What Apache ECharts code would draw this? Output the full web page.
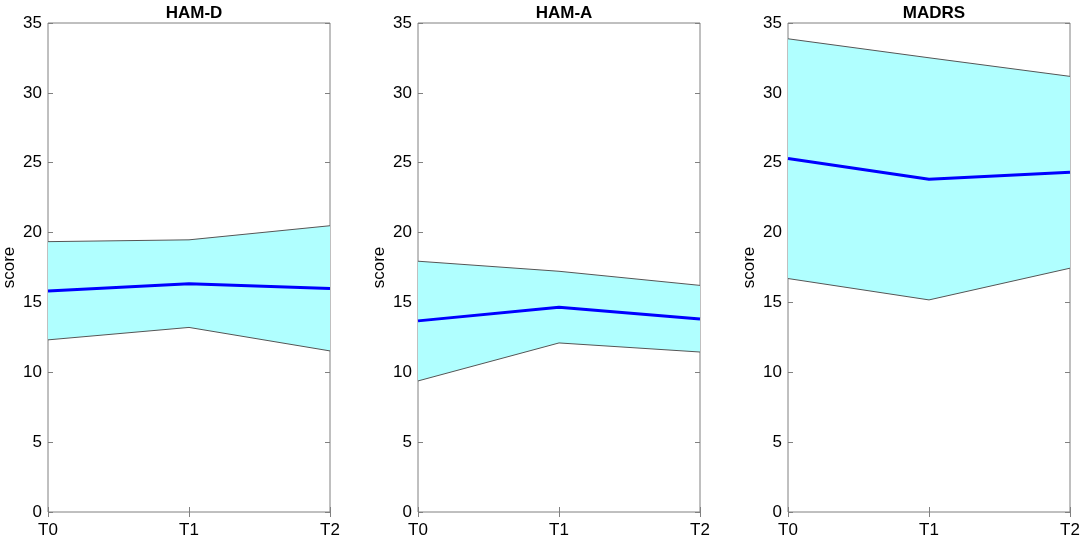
<!DOCTYPE html>
<html>
<head>
<meta charset="utf-8">
<script src="https://cdn.jsdelivr.net/npm/echarts@6/dist/echarts.min.js"></script>
<style>
html, body { margin: 0; padding: 0; background: #fff; }
#main { width: 1084px; height: 540px; }
</style>
</head>
<body>
<div id="main"></div>
<script>
// data
var timePoints = ['T0', 'T1', 'T2'];
var panelTitles = ['HAM-D', 'HAM-A', 'MADRS'];

var hamdUpper = [19.35, 19.48, 20.49];
var hamdMean = [15.82, 16.34, 16.0];
var hamdLower = [12.32, 13.21, 11.53];

var hamaUpper = [17.95, 17.23, 16.22];
var hamaMean = [13.68, 14.66, 13.82];
var hamaLower = [9.38, 12.1, 11.45];

var madrsUpper = [33.87, 32.51, 31.18];
var madrsMean = [25.3, 23.82, 24.32];
var madrsLower = [16.71, 15.18, 17.45];

var panels = [
    {upper: hamdUpper, mean: hamdMean, lower: hamdLower},
    {upper: hamaUpper, mean: hamaMean, lower: hamaLower},
    {upper: madrsUpper, mean: madrsMean, lower: madrsLower}
];

var FONT = 'Liberation Sans, Arial, sans-serif';
var lefts = [48, 418, 788];
var plotW = 282;

var grids = [], xAxes = [], yAxes = [], series = [], titles = [];

panels.forEach(function (p, i) {
    grids.push({
        left: lefts[i], width: plotW, top: 23, bottom: 28,
        show: true, borderColor: '#808080', borderWidth: 1, backgroundColor: 'transparent'
    });
    titles.push({
        text: panelTitles[i],
        left: lefts[i] + plotW / 2, top: 0, textAlign: 'center',
        textStyle: {fontFamily: FONT, fontSize: 17, fontWeight: 'bold', color: '#000'}
    });
    // bottom x axis
    xAxes.push({
        type: 'category', gridIndex: i, data: timePoints, boundaryGap: false,
        axisLine: {show: false},
        axisTick: {show: true, inside: true, length: 5, lineStyle: {color: '#808080'}},
        axisLabel: {fontFamily: FONT, fontSize: 17, color: '#000', margin: 10},
        splitLine: {show: false}
    });
    // top x axis, ticks only
    xAxes.push({
        type: 'category', gridIndex: i, data: timePoints, boundaryGap: false, position: 'top',
        axisLine: {show: false},
        axisTick: {show: true, inside: true, length: 5, lineStyle: {color: '#808080'}},
        axisLabel: {show: false}, splitLine: {show: false}
    });
    yAxes.push({
        type: 'value', gridIndex: i, min: 0, max: 35, interval: 5,
        name: 'score', nameLocation: 'middle', nameGap: 30,
        nameTextStyle: {fontFamily: FONT, fontSize: 17, color: '#000'},
        axisLine: {show: false},
        axisTick: {show: true, inside: true, length: 5, lineStyle: {color: '#808080'}},
        axisLabel: {fontFamily: FONT, fontSize: 17, color: '#000', margin: 6},
        splitLine: {show: false}
    });
    yAxes.push({
        type: 'value', gridIndex: i, min: 0, max: 35, interval: 5, position: 'right',
        axisLine: {show: false},
        axisTick: {show: true, inside: true, length: 5, lineStyle: {color: '#808080'}},
        axisLabel: {show: false}, splitLine: {show: false}
    });

    var xi = i * 2, yi = i * 2;
    var width = p.upper.map(function (u, k) { return u - p.lower[k]; });
    series.push({
        type: 'line', xAxisIndex: xi, yAxisIndex: yi, data: p.lower, stack: 'band' + i,
        symbol: 'none', lineStyle: {color: '#555555', width: 1}, z: 2
    });
    series.push({
        type: 'line', xAxisIndex: xi, yAxisIndex: yi, data: width, stack: 'band' + i,
        symbol: 'none', lineStyle: {color: '#555555', width: 1},
        areaStyle: {color: '#b0ffff', opacity: 1}, z: 1
    });
    series.push({
        type: 'line', xAxisIndex: xi, yAxisIndex: yi, data: p.mean,
        symbol: 'none', lineStyle: {color: '#0000ff', width: 3}, z: 3
    });
});

var chart = echarts.init(document.getElementById('main'));
chart.setOption({
    animation: false,
    title: titles,
    grid: grids,
    xAxis: xAxes,
    yAxis: yAxes,
    series: series
});
</script>
</body>
</html>
